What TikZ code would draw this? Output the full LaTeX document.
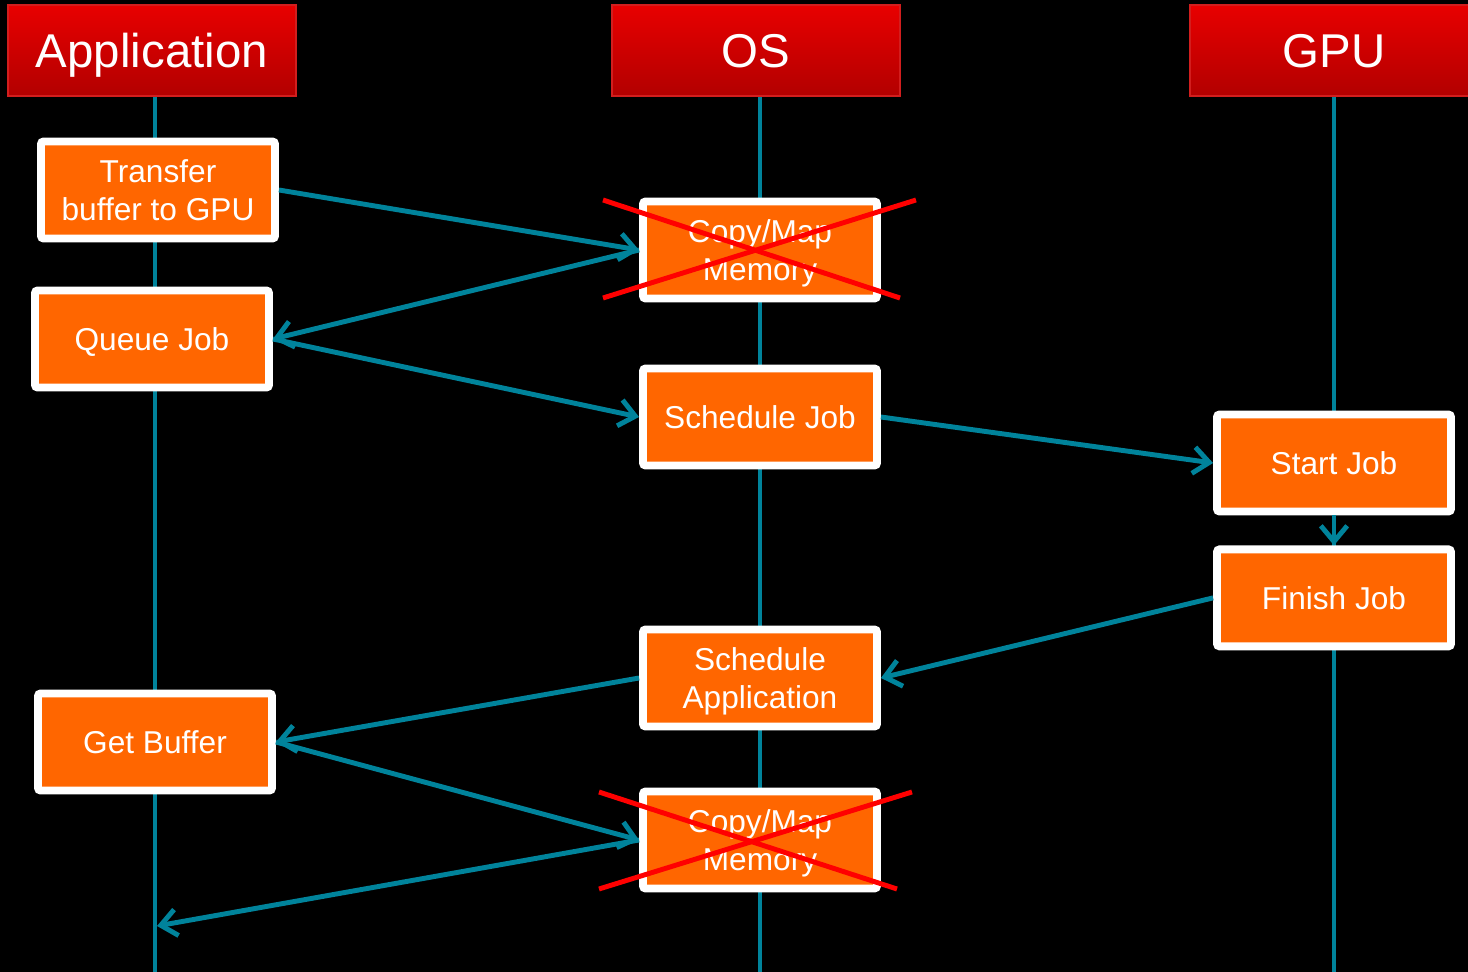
\documentclass[tikz,border=0pt]{standalone}
\usepackage{fontspec}
\setmainfont{Liberation Sans}
\usetikzlibrary{calc, positioning, arrows.meta}
\definecolor{SEQred}{RGB}{232, 0, 0}
\definecolor{SEQdred}{RGB}{178, 0, 0}
\definecolor{SEQedge}{RGB}{210, 30, 30}
\definecolor{SEQorange}{RGB}{255, 102, 0}
\definecolor{SEQteal}{RGB}{0, 131, 155}
\definecolor{SEQcross}{RGB}{255, 0, 0}
\tikzset{
	header/.style={shape=rectangle, draw=SEQedge, line width=1pt, top color=SEQred, bottom color=SEQdred, minimum width=5.76cm, minimum height=1.82cm, text depth=0pt, text=white, font=\fontsize{27}{32}\selectfont},
	job/.style={shape=rectangle, draw=white, fill=SEQorange, line width=4.5pt, rounded corners=1.5pt, minimum width=4.68cm, minimum height=1.94cm, text depth=0pt, align=center, text=white, font=\fontsize{18}{21.5}\selectfont},
	msg/.style={SEQteal, line width=2.8pt, -{Straight Barb[length=9pt, width=15pt]}},
	lifeline/.style={SEQteal, line width=2.8pt},
	cross/.style={SEQcross, line width=2.8pt}
}

\begin{document}
\begin{tikzpicture}[x=0.02cm, y=-0.02cm]
		\useasboundingbox (0,0) rectangle (1468,972);
		\fill[black] (0,0) rectangle (1468,972);
		\clip (0,0) rectangle (1468,972);
		
		% Headers
		\node[header] (app) at (152,50.5) {Application};
		\node[header] (os) at (756,50.5) {OS};
		\node[header] (gpu) at (1334,50.5) {GPU};
		\coordinate (appEnd) at (155,972);
		\coordinate (osEnd) at (760,972);
		\coordinate (gpuEnd) at (1334,972);
		\draw[lifeline] (app.south -| appEnd) -- (appEnd);
		\draw[lifeline] (os.south -| osEnd) -- (osEnd);
		\draw[lifeline] (gpu.south -| gpuEnd) -- (gpuEnd);
		
		% Application
		\node[job] (transfer) at (158,190) {Transfer\\buffer to GPU};
		\node[job] (queue) at (152,339) {Queue Job};
		\node[job] (getbuf) at (155,742) {Get Buffer};
		\coordinate (ret) at (157,926);
		
		% OS
		\node[job] (copyA) at (760,250) {Copy/Map\\Memory};
		\node[job] (schedJob) at (760,417) {Schedule Job};
		\node[job] (schedApp) at (760,678) {Schedule\\Application};
		\node[job] (copyB) at (760,840) {Copy/Map\\Memory};
		
		% GPU
		\node[job] (start) at (1334,463) {Start Job};
		\node[job, below = 0.6cm of start] (finish) {Finish Job};
		
		\path[msg] (transfer.east) edge (copyA.west);
		\path[msg] (copyA.west) edge (queue.east);
		\path[msg] (queue.east) edge (schedJob.west);
		\path[msg] (schedJob.east) edge (start.west);
		\path[msg] (start.south) edge (finish.north);
		\path[msg] (finish.west) edge (schedApp.east);
		\path[msg] (schedApp.west) edge (getbuf.east);
		\path[msg] (getbuf.east) edge (copyB.west);
		\path[msg] (copyB.west) edge (ret);
		
		% crossed out
		\draw[cross] ($(copyA)+(-157,-50)$) -- ($(copyA)+(140,48)$);
		\draw[cross] ($(copyA)+(-157,48)$) -- ($(copyA)+(156,-50)$);
		\draw[cross] ($(copyB)+(-161,-48)$) -- ($(copyB)+(137,49)$);
		\draw[cross] ($(copyB)+(-161,49)$) -- ($(copyB)+(152,-48)$);
	\end{tikzpicture}
\end{document}
